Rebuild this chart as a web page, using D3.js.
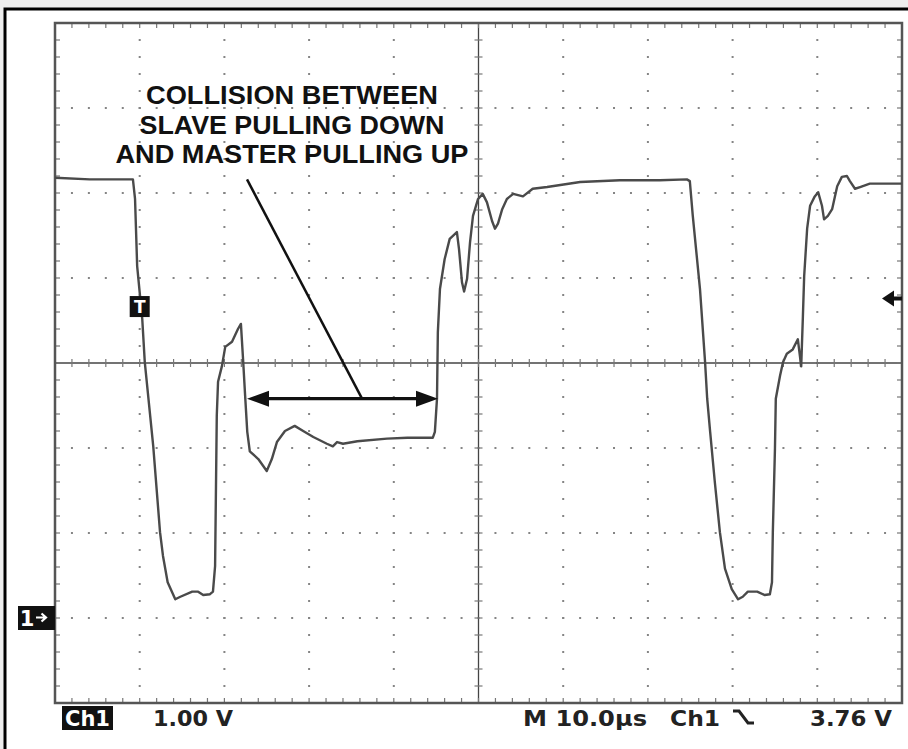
<!DOCTYPE html>
<html>
<head>
<meta charset="utf-8">
<script src="https://cdnjs.cloudflare.com/ajax/libs/d3/7.8.5/d3.min.js"></script>
<style>
  html, body { margin: 0; padding: 0; background: #eeeeee; }
  svg { display: block; }
</style>
</head>
<body>
<svg id="scope" width="908" height="749"></svg>
<script>
// trace, gelezen van het scherm: tijd in µs, spanning in V
var traceTime = [0, 4.1, 9.2, 9.45, 9.7, 10.3, 10.6, 11.6, 12.4, 12.75, 13.3, 14.2, 14.8, 16.2, 16.9, 17.5, 18.3, 18.65,
  18.9, 19.1, 19.25, 19.7, 20.1, 20.9, 21.6, 21.95, 22.2, 22.45, 22.7, 23.0, 24.0, 25.0, 25.6, 26.2, 27.15, 28.3,
  29.3, 30.5, 32.1, 32.8, 33.3, 34.0, 35.7, 39.2, 41.6, 44.6, 44.85, 45.1, 45.2, 45.45, 46.0, 46.6, 47.45, 47.7,
  48.05, 48.3, 48.65, 49.0, 49.35, 49.95, 50.5, 51.0, 51.6, 51.95, 52.3, 52.8, 53.35, 54.1, 55.25, 56.4, 58.1,
  62.0, 66.7, 71.4, 74.6, 74.95, 75.3, 76.15, 76.75, 77.0, 77.35, 77.9, 78.5, 79.1, 79.9, 80.65, 81.2, 81.8, 82.9,
  83.8, 84.4, 84.65, 84.75, 85.0, 85.1, 85.6, 85.95, 86.4, 87.1, 87.7, 88.1, 88.3, 88.45, 88.8, 89.15, 89.7, 90.1,
  90.55, 90.8, 91.25, 91.75, 92.35, 92.9, 93.5, 93.85, 94.45, 95.05, 96.2, 97.75, 100];
var traceVolts = [5.18, 5.16, 5.16, 4.93, 4.14, 3.52, 3.01, 2.02, 1.01, 0.73, 0.42, 0.22, 0.25, 0.31, 0.31, 0.27, 0.28, 0.31,
  0.61, 2.38, 2.78, 2.96, 3.19, 3.25, 3.40, 3.46, 3.05, 2.61, 2.19, 1.96, 1.87, 1.73, 1.87, 2.07, 2.20, 2.26,
  2.20, 2.13, 2.05, 2.02, 2.07, 2.05, 2.08, 2.11, 2.12, 2.12, 2.19, 2.58, 3.36, 3.87, 4.22, 4.46, 4.54, 4.34,
  3.95, 3.84, 3.99, 4.42, 4.73, 4.93, 4.99, 4.89, 4.67, 4.58, 4.64, 4.81, 4.93, 4.99, 4.96, 5.05, 5.07,
  5.13, 5.15, 5.15, 5.16, 5.14, 4.73, 3.87, 3.01, 2.58, 2.19, 1.60, 1.01, 0.58, 0.34, 0.22, 0.25, 0.31, 0.31,
  0.27, 0.28, 0.42, 1.01, 1.99, 2.58, 2.85, 3.01, 3.11, 3.16, 3.28, 2.96, 3.55, 4.02, 4.58, 4.85, 4.96, 5.01,
  4.85, 4.69, 4.73, 4.81, 5.08, 5.19, 5.20, 5.14, 5.05, 5.07, 5.11, 5.11, 5.11];

// schaal en instellingen van de scope
var timeDomain = [0, 100];      // 10 div x 10 µs
var voltDomain = [-1, 7];       // 8 div x 1 V, nul op Ch1-markering
var majorTimes = [10, 20, 30, 40, 60, 70, 80, 90];
var majorVolts = [0, 1, 2, 4, 5, 6];
var centerTime = 50, centerVolt = 3;
var triggerLevel = 3.76, triggerTime = 10;

// teksten onderaan
var readoutLeft = ["Ch1", "1.00 V"];
var readoutRight = ["M 10.0µs", "Ch1", "3.76 V"];

// annotatie
var noteLines = ["COLLISION BETWEEN", "SLAVE PULLING DOWN", "AND MASTER PULLING UP"];
var noteArrow = [22.67, 45.22], noteArrowVolt = 2.58;
var notePointer = [[22.67, 5.16], [36.25, 2.58]];

var svg = d3.select("#scope");

var x = d3.scaleLinear().domain(timeDomain).range([55, 902]);
var y = d3.scaleLinear().domain(voltDomain).range([703, 23]);

// buitenrand
svg.append("rect")
  .attr("x", 5).attr("y", 9).attr("width", 1000).attr("height", 1000)
  .attr("fill", "#ffffff").attr("stroke", "#000").attr("stroke-width", 3);

var grid = svg.append("g");
var dotColor = "#858585";
var minorT = d3.range(timeDomain[0], timeDomain[1] + 0.001, 2);
var minorV = d3.range(voltDomain[0], voltDomain[1] + 0.001, 0.2);

// stippellijnen van het raster
majorTimes.forEach(function(t) {
  grid.selectAll(null).data(minorV.slice(1, -1)).enter().append("rect")
    .attr("x", x(t) - 1).attr("y", function(v) { return y(v) - 1; })
    .attr("width", 2).attr("height", 2).attr("fill", dotColor);
});
majorVolts.forEach(function(v) {
  grid.selectAll(null).data(minorT.slice(1, -1)).enter().append("rect")
    .attr("x", function(t) { return x(t) - 1; }).attr("y", y(v) - 1)
    .attr("width", 2).attr("height", 2).attr("fill", dotColor);
});

// middenlijnen met streepjes
grid.append("line")
  .attr("x1", x(0)).attr("x2", x(100)).attr("y1", y(centerVolt)).attr("y2", y(centerVolt))
  .attr("stroke", "#444").attr("stroke-width", 1.3);
grid.append("line")
  .attr("x1", x(centerTime)).attr("x2", x(centerTime)).attr("y1", y(-1)).attr("y2", y(7))
  .attr("stroke", "#444").attr("stroke-width", 1.3);
grid.selectAll(null).data(minorT).enter().append("line")
  .attr("x1", function(t) { return x(t); }).attr("x2", function(t) { return x(t); })
  .attr("y1", y(centerVolt) - 4).attr("y2", y(centerVolt) + 4)
  .attr("stroke", "#777").attr("stroke-width", 1.2);
grid.selectAll(null).data(minorV).enter().append("line")
  .attr("y1", function(v) { return y(v); }).attr("y2", function(v) { return y(v); })
  .attr("x1", x(centerTime) - 4).attr("x2", x(centerTime) + 4)
  .attr("stroke", "#777").attr("stroke-width", 1.2);

// streepjes langs de randen
grid.selectAll(null).data(minorT).enter().append("line")
  .attr("x1", function(t) { return x(t); }).attr("x2", function(t) { return x(t); })
  .attr("y1", y(7)).attr("y2", y(7) + 5)
  .attr("stroke", "#777").attr("stroke-width", 1.2);
grid.selectAll(null).data(minorT).enter().append("line")
  .attr("x1", function(t) { return x(t); }).attr("x2", function(t) { return x(t); })
  .attr("y1", y(-1)).attr("y2", y(-1) - 5)
  .attr("stroke", "#777").attr("stroke-width", 1.2);
grid.selectAll(null).data(minorV).enter().append("line")
  .attr("y1", function(v) { return y(v); }).attr("y2", function(v) { return y(v); })
  .attr("x1", x(0)).attr("x2", x(0) + 5)
  .attr("stroke", "#777").attr("stroke-width", 1.2);
grid.selectAll(null).data(minorV).enter().append("line")
  .attr("y1", function(v) { return y(v); }).attr("y2", function(v) { return y(v); })
  .attr("x1", x(100)).attr("x2", x(100) - 5)
  .attr("stroke", "#777").attr("stroke-width", 1.2);

// rand van het raster
grid.append("rect")
  .attr("x", x(0)).attr("y", y(7)).attr("width", x(100) - x(0)).attr("height", y(-1) - y(7))
  .attr("fill", "none").attr("stroke", "#555").attr("stroke-width", 2.5);

// het signaal
var traceData = traceTime.map(function(t, i) { return [t, traceVolts[i]]; });
svg.append("path")
  .datum(traceData)
  .attr("fill", "none")
  .attr("stroke", "#4a4a4a")
  .attr("stroke-width", 2.4)
  .attr("stroke-linejoin", "round")
  .attr("d", d3.line().x(function(d) { return x(d[0]); }).y(function(d) { return y(d[1]); }));

// trigger T markering
svg.append("rect")
  .attr("x", x(triggerTime) - 10).attr("y", y(3.67) - 10).attr("width", 20).attr("height", 21)
  .attr("fill", "#111");
svg.append("text")
  .attr("x", x(triggerTime)).attr("y", y(3.67) + 7)
  .attr("text-anchor", "middle").attr("fill", "#fff")
  .attr("font-family", "DejaVu Sans").attr("font-weight", "bold").attr("font-size", 17)
  .text("T");

// trigger niveau pijl rechts
var ty = y(triggerLevel);
svg.append("path")
  .attr("d", "M" + (x(100) - 20) + "," + ty + "l12,-8v6h8v4h-8v6z")
  .attr("fill", "#111");

// Ch1 nulpunt markering links
var gy = y(0);
svg.append("rect")
  .attr("x", 18).attr("y", gy - 12).attr("width", 37).attr("height", 24)
  .attr("fill", "#111");
svg.append("text")
  .attr("x", 27).attr("y", gy + 8)
  .attr("text-anchor", "middle").attr("fill", "#fff")
  .attr("font-family", "DejaVu Sans").attr("font-weight", "bold").attr("font-size", 21)
  .text("1");
svg.append("path")
  .attr("d", "M36," + (gy - 0.5) + "h9M41.5," + (gy - 4.5) + "l4.5,4l-4.5,4")
  .attr("fill", "none").attr("stroke", "#fff").attr("stroke-width", 2.2);

// annotatie tekst
var noteG = svg.append("g")
  .attr("font-family", "Liberation Sans, Arial, sans-serif")
  .attr("font-weight", "bold").attr("font-size", 25).attr("fill", "#111")
  .attr("text-anchor", "middle");
var noteWidths = [292, 305, 353];
noteG.selectAll("text").data(noteLines).enter().append("text")
  .attr("x", x(27.98))
  .attr("y", function(d, i) { return 104 + i * 29.5; })
  .attr("textLength", function(d, i) { return noteWidths[i]; })
  .attr("lengthAdjust", "spacingAndGlyphs")
  .text(function(d) { return d; });

// aanwijslijn
svg.append("line")
  .attr("x1", x(notePointer[0][0])).attr("y1", y(notePointer[0][1]))
  .attr("x2", x(notePointer[1][0])).attr("y2", y(notePointer[1][1]))
  .attr("stroke", "#111").attr("stroke-width", 2.5);

// dubbele pijl
var ay = y(noteArrowVolt), ax1 = x(noteArrow[0]), ax2 = x(noteArrow[1]);
svg.append("line")
  .attr("x1", ax1 + 10).attr("x2", ax2 - 10).attr("y1", ay).attr("y2", ay)
  .attr("stroke", "#111").attr("stroke-width", 3.2);
svg.append("path")
  .attr("d", "M" + ax1 + "," + ay + "l22,-8v16z M" + ax2 + "," + ay + "l-22,-8v16z")
  .attr("fill", "#111");

// onderste regel met instellingen
var ro = svg.append("g")
  .attr("font-family", "DejaVu Sans").attr("font-weight", "bold").attr("font-size", 21);
ro.append("rect").attr("x", 62).attr("y", 706).attr("width", 51).attr("height", 24).attr("fill", "#111");
ro.append("text").attr("x", 65).attr("y", 726).attr("fill", "#fff")
  .attr("textLength", 45).attr("lengthAdjust", "spacingAndGlyphs").text(readoutLeft[0]);
ro.append("text").attr("x", 153).attr("y", 726).attr("fill", "#222")
  .attr("textLength", 80).attr("lengthAdjust", "spacingAndGlyphs").text(readoutLeft[1]);
ro.append("text").attr("x", 523).attr("y", 726).attr("fill", "#222")
  .attr("textLength", 124).attr("lengthAdjust", "spacingAndGlyphs").text(readoutRight[0]);
ro.append("text").attr("x", 670).attr("y", 726).attr("fill", "#222")
  .attr("textLength", 50).attr("lengthAdjust", "spacingAndGlyphs").text(readoutRight[1]);
ro.append("text").attr("x", 810).attr("y", 726).attr("fill", "#222")
  .attr("textLength", 82).attr("lengthAdjust", "spacingAndGlyphs").text(readoutRight[2]);
// dalende flank symbool
ro.append("path")
  .attr("d", "M733,711h6l9,12h6")
  .attr("fill", "none").attr("stroke", "#222").attr("stroke-width", 3);
</script>
</body>
</html>
